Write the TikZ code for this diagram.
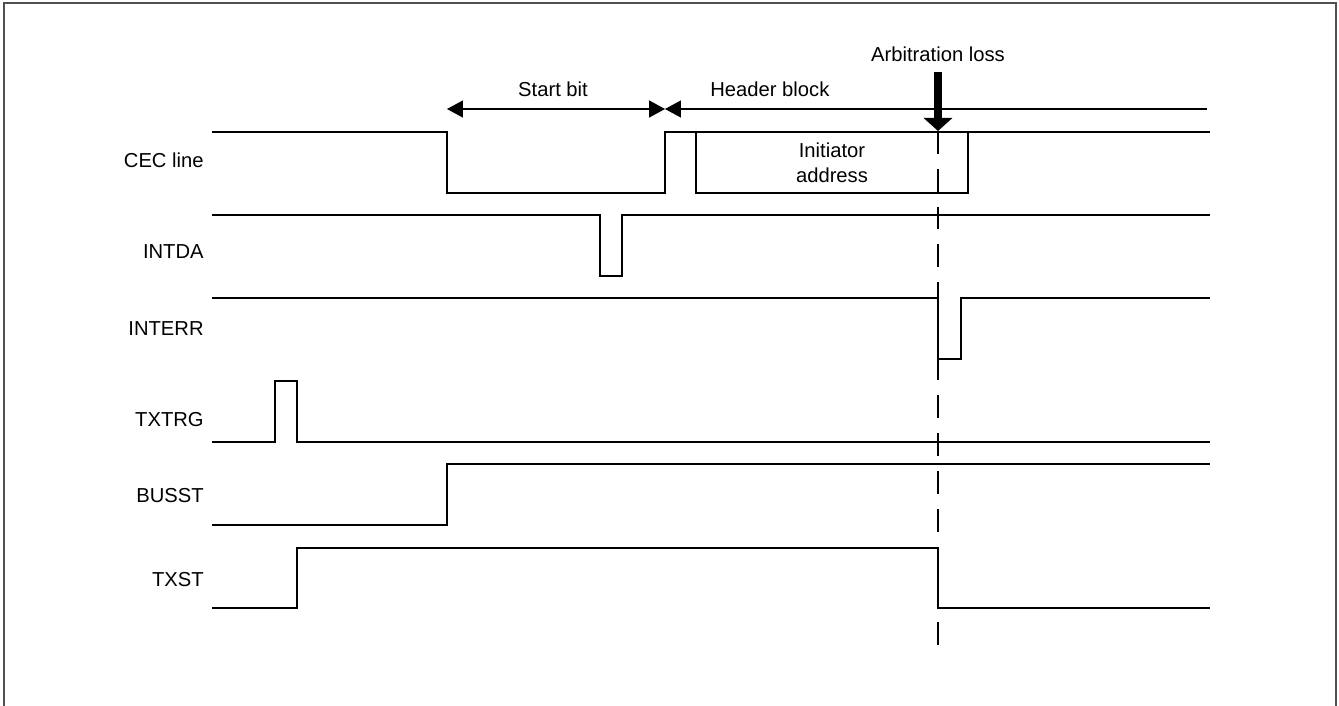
\documentclass[tikz,border=0pt]{standalone}
\usepackage{fontspec}
\setmainfont{Liberation Sans}
\usepackage{tikz}
\usetikzlibrary{positioning,arrows.meta}
\usepackage{xcolor}
\definecolor{framegray}{HTML}{505050}

\begin{document}
\begin{tikzpicture}[x=0.02cm, y=-0.02cm,
        sig/.style={line width=1.5pt, line join=miter},
        lbl/.style={anchor=base east, inner sep=0pt, font=\fontsize{11.5}{14}\selectfont},
        txt/.style={inner sep=0pt, font=\fontsize{11.5}{14.2}\selectfont},
        span/.style={line width=0.75pt, {Triangle[length=9pt,width=9.6pt]}-{Triangle[length=9pt,width=9.6pt]}},
        halfspan/.style={line width=0.75pt, -{Triangle[length=9pt,width=9.6pt]}},
        loss/.style={line width=4pt, -{Triangle[length=7.4pt,width=16pt]}},
        marker/.style={line width=1.1pt, dash pattern=on 13pt off 8.5pt}
    ]
        \useasboundingbox (0,0) rectangle (1339,706);
        \draw[framegray, line width=1.1pt] (4,706) -- (4,3) -- (1336,3) -- (1336,706);

        % signal names
        \node[lbl] (cec) at (204,168) {CEC line};
        \node[lbl] (intda) at (204,258) {INTDA};
        \node[lbl] (interr) at (204,335) {INTERR};
        \node[lbl] (txtrg) at (204,426) {TXTRG};
        \node[lbl] (busst) at (204,502) {BUSST};
        \node[lbl] (txst) at (204,586) {TXST};

        % waveforms
        \draw[sig] (212,132) -- (447,132) -- (447,193) -- (665,193) -- (665,132) -- (1210,132);
        \draw[sig] (696,132) -- (696,193) -- (968,193) -- (968,132);
        \draw[sig] (212,215) -- (600,215) -- (600,276) -- (622,276) -- (622,215) -- (1210,215);
        \draw[sig] (212,298) -- (938,298) -- (938,359) -- (961,359) -- (961,298) -- (1210,298);
        \draw[sig] (212,442) -- (275,442) -- (275,381) -- (297,381) -- (297,442) -- (1210,442);
        \draw[sig] (212,525) -- (447,525) -- (447,464) -- (1210,464);
        \draw[sig] (212,608) -- (297,608) -- (297,548) -- (938,548) -- (938,608) -- (1210,608);

        \node[txt, align=center] (initaddr) at (832,163) {Initiator\\address};

        % bit fields
        \coordinate (sbstart) at (447,109);
        \coordinate (sbend) at (665,109);
        \coordinate (hbend) at (1207,109);
        \draw[span] (sbstart) -- (sbend);
        \draw[halfspan] (hbend) -- (sbend);
        \node[txt, anchor=base] (startbit) at (553,97) {Start bit};
        \node[txt, anchor=base west] (header) at (710,97) {Header block};

        % arbitration loss
        \node[txt, anchor=base] (arbloss) at (938,62) {Arbitration loss};
        \coordinate (arbtop) at (938,72);
        \coordinate (arbtip) at (938,131);
        \coordinate (arbend) at (938,655);
        \draw[loss] (arbtop) -- (arbtip);
        \draw[marker] (arbtip) -- (arbend);
    \end{tikzpicture}
\end{document}
